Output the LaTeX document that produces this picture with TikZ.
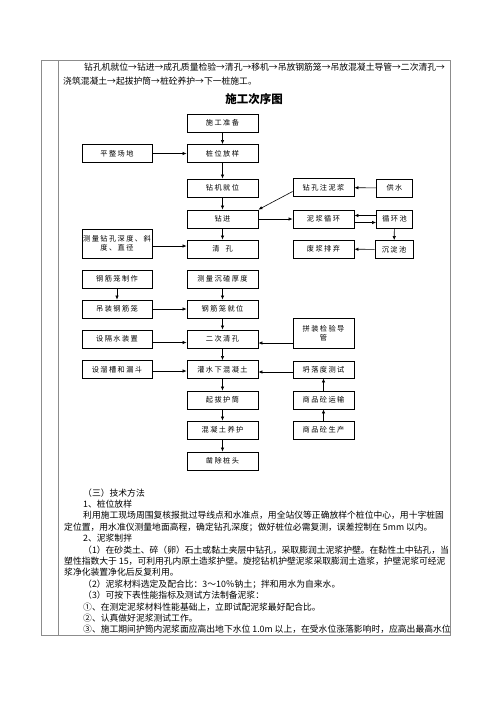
\documentclass[tikz,border=0pt]{standalone}
\usepackage{fontspec}
\setmainfont{Noto Sans CJK SC}
\newfontfamily\cjk{Noto Sans CJK SC}
\newfontfamily\cjkbx[LetterSpace=20]{Noto Sans CJK SC}
\usetikzlibrary{arrows.meta,calc}
\begin{document}
\begin{tikzpicture}[x=1pt,y=-1pt,
  bx/.style={draw,line width=0.8pt,inner sep=0pt,align=center,font=\cjkbx\fontsize{7.2}{9}\selectfont},
  mid/.style={bx,minimum width=71pt,minimum height=18pt},
  lft/.style={bx,minimum width=70pt,minimum height=18pt},
  rgt/.style={bx,minimum width=61pt,minimum height=18pt},
  far/.style={bx,minimum width=36pt,minimum height=18pt},
  arr/.style={line width=0.6pt,-{Latex[length=4pt,width=3.4pt]}},
  frame/.style={draw=black!45,line width=0.8pt},
  txt/.style={anchor=base west,inner sep=0pt,font=\cjk\fontsize{8.8}{10}\selectfont},
  ttl/.style={inner sep=0pt,font=\cjk\bfseries\fontsize{11.5}{13}\selectfont}]
\useasboundingbox[fill=white] (0,0) rectangle (500,707);
% table frame
\draw[frame] (41,60) rectangle (450,635);
\draw[frame] (58,60) -- (58,635);
% top text
\node[txt] (t1) at (84,70.4) {钻孔机就位→钻进→成孔质量检验→清孔→移机→吊放钢筋笼→吊放混凝土导管→二次清孔→};
\node[txt] (t2) at (63,84.4) {浇筑混凝土→起拔护筒→桩砼养护→下一桩施工。};
\node[ttl] (title) at (254,99.5) {施工次序图};
% boxes
\node[mid] (m1) at (222.5,123) {施工准备};
\node[mid] (m2) at (222.5,153.5) {桩位放样};
\node[lft] (l1) at (117,153.5) {平整场地};
\node[mid] (m3) at (222.5,188) {钻机就位};
\node[rgt] (r1) at (323.5,187.5) {钻孔注泥浆};
\node[far] (f1) at (394.5,188) {供水};
\node[mid] (m4) at (222.5,219) {钻进};
\node[rgt] (r2) at (323.5,219) {泥浆循环};
\node[far] (f2) at (394.5,219) {循环池};
\node[lft,minimum height=29pt] (l2) at (117,243.5) {测量钻孔深度、斜\\度、直径};
\node[mid] (m5) at (222.5,249) {清\hspace{6pt}孔};
\node[rgt] (r3) at (323.5,249) {废浆排弃};
\node[far,minimum width=38pt] (f3) at (394,249.5) {沉淀池};
\node[lft] (l3) at (117,279) {钢筋笼制作};
\node[mid] (m6) at (222.5,279) {测量沉碴厚度};
\node[lft] (l4) at (117,309) {吊装钢筋笼};
\node[mid] (m7) at (222.5,309) {钢筋笼就位};
\node[lft] (l5) at (117,339) {设隔水装置};
\node[mid] (m8) at (222.5,339) {二次清孔};
\node[rgt,minimum height=30pt] (r4) at (323.5,333) {拼装检验导\\管};
\node[lft] (l6) at (117,369.5) {设溜槽和漏斗};
\node[mid] (m9) at (222.5,369.5) {灌水下混凝土};
\node[rgt,minimum height=17pt] (r5) at (323.5,369.5) {坍落度测试};
\node[mid] (m10) at (222.5,400) {起拔护筒};
\node[rgt] (r6) at (323.5,400) {商品砼运输};
\node[mid] (m11) at (222.5,430) {混凝土养护};
\node[rgt] (r7) at (323.5,430) {商品砼生产};
\node[mid] (m12) at (222.5,461) {凿除桩头};
% connectors
\draw[arr] (m1) -- (m2);
\draw[arr] (l1) -- (m2);
\draw[arr] (m2) -- (m3);
\draw[arr] (m3) -- (m4);
\draw[arr] ([yshift=-4pt]r1.west) -- (m4.north east);
\draw[arr] (f1) -- (r1);
\draw[arr] (m4) -- (r2);
\draw[arr] ([yshift=3.5pt]f2.west) -- ([yshift=3.5pt]r2.east);
\draw[arr] ([yshift=-3.5pt]r2.east) -- ([yshift=-3.5pt]f2.west);
\draw[arr] (f2) -- (f3);
\draw[arr] (f3) -- (r3);
\draw[arr] (m4) -- (m5);
\draw[arr] ([yshift=-2.5pt]l2.east) -- ([yshift=-2.5pt]l2.east -| m5.west);
\draw[arr] (m6) -- (m7);
\draw[arr] (l3) -- (l4);
\draw[arr] (l4) -- (m7);
\draw[arr] (m7) -- (m8);
\draw[arr] ([yshift=-3.5pt]l5.east) -- ([yshift=-3.5pt]l5.east -| m8.west);
\draw[arr] ([yshift=-10pt]r4.west) -- ([yshift=-10pt]r4.west -| m8.east);
\draw[arr] (m8) -- (m9);
\draw[arr] ([yshift=-1.5pt]l6.east) -- ([yshift=-1.5pt]l6.east -| m9.west);
\draw[arr] ([yshift=-2.5pt]r5.west) -- ([yshift=-2.5pt]r5.west -| m9.east);
\draw[arr] (r6) -- (r5);
\draw[arr] (r7) -- (r6);
\draw[arr] (m9) -- (m10);
\draw[arr] (m10) -- (m11);
\draw[arr] (m11) -- (m12);
% body text
\node[txt] (b1) at (83,496.1) {（三）技术方法};
\node[txt] (b2) at (83,507.5) {1、桩位放样};
\node[txt] (b3) at (83,518.9) {利用施工现场周围复核报批过导线点和水准点，用全站仪等正确放样个桩位中心，用十字桩固};
\node[txt] (b4) at (64,530.3) {定位置，用水准仪测量地面高程，确定钻孔深度；做好桩位必需复测，误差控制在 5mm 以内。};
\node[txt] (b5) at (83,541.7) {2、泥浆制拌};
\node[txt] (b6) at (83,553.1) {（1）在砂类土、碎（卵）石土或黏土夹层中钻孔，采取膨润土泥浆护壁。在黏性土中钻孔，当};
\node[txt] (b7) at (64,564.5) {塑性指数大于 15，可利用孔内原土造浆护壁。旋挖钻机护壁泥浆采取膨润土造浆，护壁泥浆可经泥};
\node[txt] (b8) at (64,575.9) {浆净化装置净化后反复利用。};
\node[txt] (b9) at (83,587.3) {（2）泥浆材料选定及配合比：3～10％钠土；拌和用水为自来水。};
\node[txt] (b10) at (83,598.7) {（3）可按下表性能指标及测试方法制备泥浆：};
\node[txt] (b11) at (83,610.1) {①、在测定泥浆材料性能基础上，立即试配泥浆最好配合比。};
\node[txt] (b12) at (83,621.5) {②、认真做好泥浆测试工作。};
\node[txt] (b13) at (83,632.9) {③、施工期间护筒内泥浆面应高出地下水位 1.0m 以上，在受水位涨落影响时，应高出最高水位};
\end{tikzpicture}
\end{document}
